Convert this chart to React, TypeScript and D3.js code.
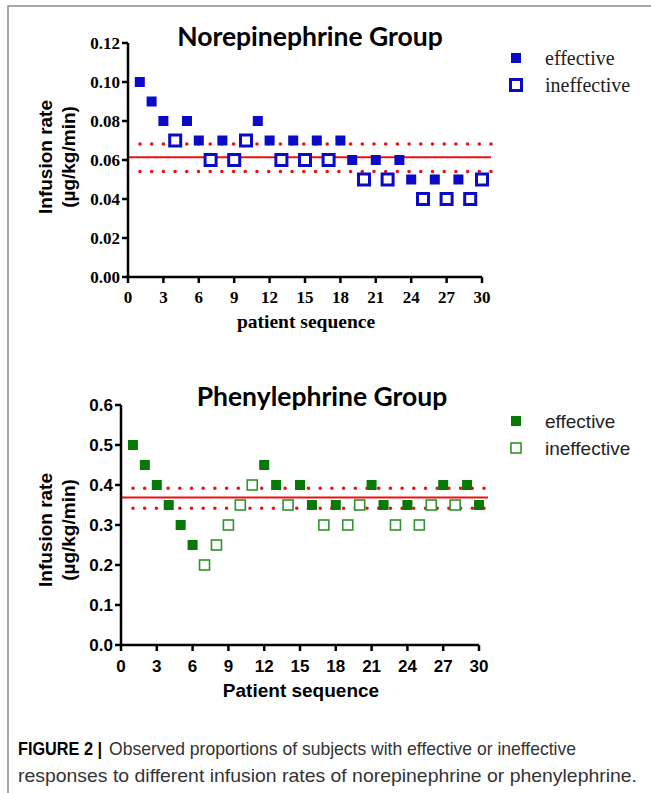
import React from "react";
import * as d3 from "d3";

const patients = d3.range(1, 31);
const norValues = [0.10,0.09,0.08,0.07,0.08,0.07,0.06,0.07,0.06,0.07,0.08,0.07,0.06,0.07,0.06,0.07,0.06,0.07,0.06,0.05,0.06,0.05,0.06,0.05,0.04,0.05,0.04,0.05,0.04,0.05];
const norEffective = [1,1,1,0,1,1,0,1,0,0,1,1,0,1,0,1,0,1,1,0,1,0,1,1,0,1,0,1,0,0];
const norMean = 0.0614;
const norCI = [0.0541, 0.0682];

const pheValues = [0.50,0.45,0.40,0.35,0.30,0.25,0.20,0.25,0.30,0.35,0.40,0.45,0.40,0.35,0.40,0.35,0.30,0.35,0.30,0.35,0.40,0.35,0.30,0.35,0.30,0.35,0.40,0.35,0.40,0.35];
const pheEffective = [1,1,1,1,1,1,0,0,0,0,0,1,1,0,1,1,0,1,0,0,1,1,0,1,0,0,1,0,1,1];
const pheMean = 0.369;
const pheCI = [0.342, 0.392];

const xTicks = [0,3,6,9,12,15,18,21,24,27,30];
const norYTicks = [0,0.02,0.04,0.06,0.08,0.10,0.12];
const pheYTicks = [0,0.1,0.2,0.3,0.4,0.5,0.6];
const legendLabels = ["effective", "ineffective"];

const BLUE = "#0a0ac8";
const GREEN = "#067a06";
const GREEN_OPEN = "#2f932f";
const RED = "#f01010";

type PanelProps = {
  title: string; values: number[]; eff: number[]; mean: number; ci: number[];
  yTicks: number[]; yFmt: (v: number) => string; xRange: [number, number]; yRange: [number, number];
  yMax: number; font: string; tickSize: number; color: string; openColor: string;
  openStroke: number; openSize: number; titleX: number; titleY: number; xTitle: string;
  xTitleX: number; xTitleY: number; xTitleSize: number; yTitleY: number; legendX: number; legendY: number;
  legendFont: string; legendSize: number; tickLabelDy: number;
};

function Panel(p: PanelProps) {
  const x = d3.scaleLinear().domain([0, 30]).range(p.xRange);
  const y = d3.scaleLinear().domain([0, p.yMax]).range(p.yRange);
  const x0 = p.xRange[0];
  const xEnd = p.xRange[1] + 9;
  const fs = 10;
  return (
    <g>
      <text x={p.titleX} y={p.titleY} textAnchor="middle" fontFamily="Lato, 'Open Sans', sans-serif" fontWeight="bold" fontSize={26.5} fill="#000">{p.title}</text>
      <line x1={x0} x2={xEnd} y1={y(p.mean)} y2={y(p.mean)} stroke={RED} strokeWidth={2} />
      {p.ci.map((c, i) => (
        <line key={i} x1={x0 + 12} x2={xEnd} y1={y(c)} y2={y(c)} stroke={RED} strokeWidth={3.6} strokeLinecap="round" strokeDasharray="0 11.7" />
      ))}
      {patients.map((pt, i) => p.eff[i] ? (
        <rect key={pt} x={x(pt) - fs / 2} y={y(p.values[i]) - fs / 2} width={fs} height={fs} fill={p.color} />
      ) : (
        <rect key={pt} x={x(pt) - p.openSize / 2} y={y(p.values[i]) - p.openSize / 2} width={p.openSize} height={p.openSize} fill="#fff" stroke={p.openColor} strokeWidth={p.openStroke} />
      ))}
      <line x1={x0} x2={x0} y1={y(0)} y2={y(p.yMax)} stroke="#000" strokeWidth={2.5} />
      <line x1={x0} x2={p.xRange[1]} y1={y(0)} y2={y(0)} stroke="#000" strokeWidth={2.5} />
      {p.yTicks.map((t) => (
        <g key={t}>
          <line x1={x0 - 6} x2={x0} y1={y(t)} y2={y(t)} stroke="#000" strokeWidth={2.5} />
          <text x={x0 - 8} y={y(t)} dy="0.35em" textAnchor="end" fontFamily={p.font} fontWeight="bold" fontSize={p.tickSize} fill="#000">{p.yFmt(t)}</text>
        </g>
      ))}
      {xTicks.map((t) => (
        <g key={t}>
          <line x1={x(t)} x2={x(t)} y1={y(0)} y2={y(0) + 6} stroke="#000" strokeWidth={2.5} />
          <text x={x(t)} y={y(0) + p.tickLabelDy} textAnchor="middle" fontFamily={p.font} fontWeight="bold" fontSize={p.tickSize} fill="#000">{t}</text>
        </g>
      ))}
      <text x={p.xTitleX} y={p.xTitleY} textAnchor="middle" fontFamily={p.font} fontWeight="bold" fontSize={p.xTitleSize} fill="#000">{p.xTitle}</text>
      <g transform={`translate(52,${p.yTitleY}) rotate(-90)`}>
        <text x={0} y={0} textAnchor="middle" fontFamily="Arial, 'Liberation Sans', sans-serif" fontWeight="bold" fontSize={19} fill="#000">Infusion rate</text>
        <text x={0} y={23} textAnchor="middle" fontFamily="Arial, 'Liberation Sans', sans-serif" fontWeight="bold" fontSize={19} fill="#000">(µg/kg/min)</text>
      </g>
      {legendLabels.map((l, i) => (
        <g key={l} transform={`translate(${p.legendX},${p.legendY + i * 27})`}>
          {i === 0 ? (
            <rect x={-fs / 2} y={-fs / 2} width={fs} height={fs} fill={p.color} />
          ) : (
            <rect x={-p.openSize / 2} y={-p.openSize / 2} width={p.openSize} height={p.openSize} fill="#fff" stroke={p.openColor} strokeWidth={p.openStroke} />
          )}
          <text x={29} y={0} dy="0.35em" fontFamily={p.legendFont} fontSize={p.legendSize} fill="#222">{l}</text>
        </g>
      ))}
    </g>
  );
}

const CAPTION_FONT = "Arial, 'Liberation Sans', sans-serif";

export default function App() {
  return (
    <svg width={651} height={793} style={{ position: "absolute", left: 0, top: 0, background: "#fff" }}>
      <rect x={0} y={0} width={651} height={793} fill="#fff" />
      <rect x={8} y={6} width={700} height={900} fill="none" stroke="#8a8a8a" strokeWidth={1.5} />
      <Panel
        title="Norepinephrine Group" values={norValues} eff={norEffective} mean={norMean} ci={norCI}
        yTicks={norYTicks} yFmt={d3.format(".2f")} xRange={[128, 482]} yRange={[277, 43]} yMax={0.12}
        font="'Liberation Serif', 'Times New Roman', serif" tickSize={17} color={BLUE} openColor={BLUE}
        openStroke={3} openSize={11} titleX={310} titleY={46} xTitle="patient sequence" xTitleX={306} xTitleY={328}
        xTitleSize={19.5} yTitleY={157} legendX={516} legendY={58} legendFont="'Liberation Serif', 'Times New Roman', serif"
        legendSize={20} tickLabelDy={26}
      />
      <Panel
        title="Phenylephrine Group" values={pheValues} eff={pheEffective} mean={pheMean} ci={pheCI}
        yTicks={pheYTicks} yFmt={d3.format(".1f")} xRange={[121, 479]} yRange={[645, 405]} yMax={0.6}
        font="Arial, 'Liberation Sans', sans-serif" tickSize={17} color={GREEN} openColor={GREEN_OPEN}
        openStroke={1.6} openSize={10} titleX={322} titleY={406} xTitle="Patient sequence" xTitleX={301} xTitleY={697}
        xTitleSize={19} yTitleY={530} legendX={516} legendY={421} legendFont="Arial, 'Liberation Sans', sans-serif"
        legendSize={19} tickLabelDy={27}
      />
      <text x={18} y={755} fontFamily={CAPTION_FONT} fontWeight="bold" fontSize={19} fill="#000" textLength={84} lengthAdjust="spacingAndGlyphs">FIGURE 2 |</text>
      <text x={109} y={755} fontFamily={CAPTION_FONT} fontSize={19} fill="#333" textLength={467} lengthAdjust="spacingAndGlyphs">Observed proportions of subjects with effective or ineffective</text>
      <text x={18} y={782} fontFamily={CAPTION_FONT} fontSize={19} fill="#333" textLength={619} lengthAdjust="spacingAndGlyphs">responses to different infusion rates of norepinephrine or phenylephrine.</text>
    </svg>
  );
}
